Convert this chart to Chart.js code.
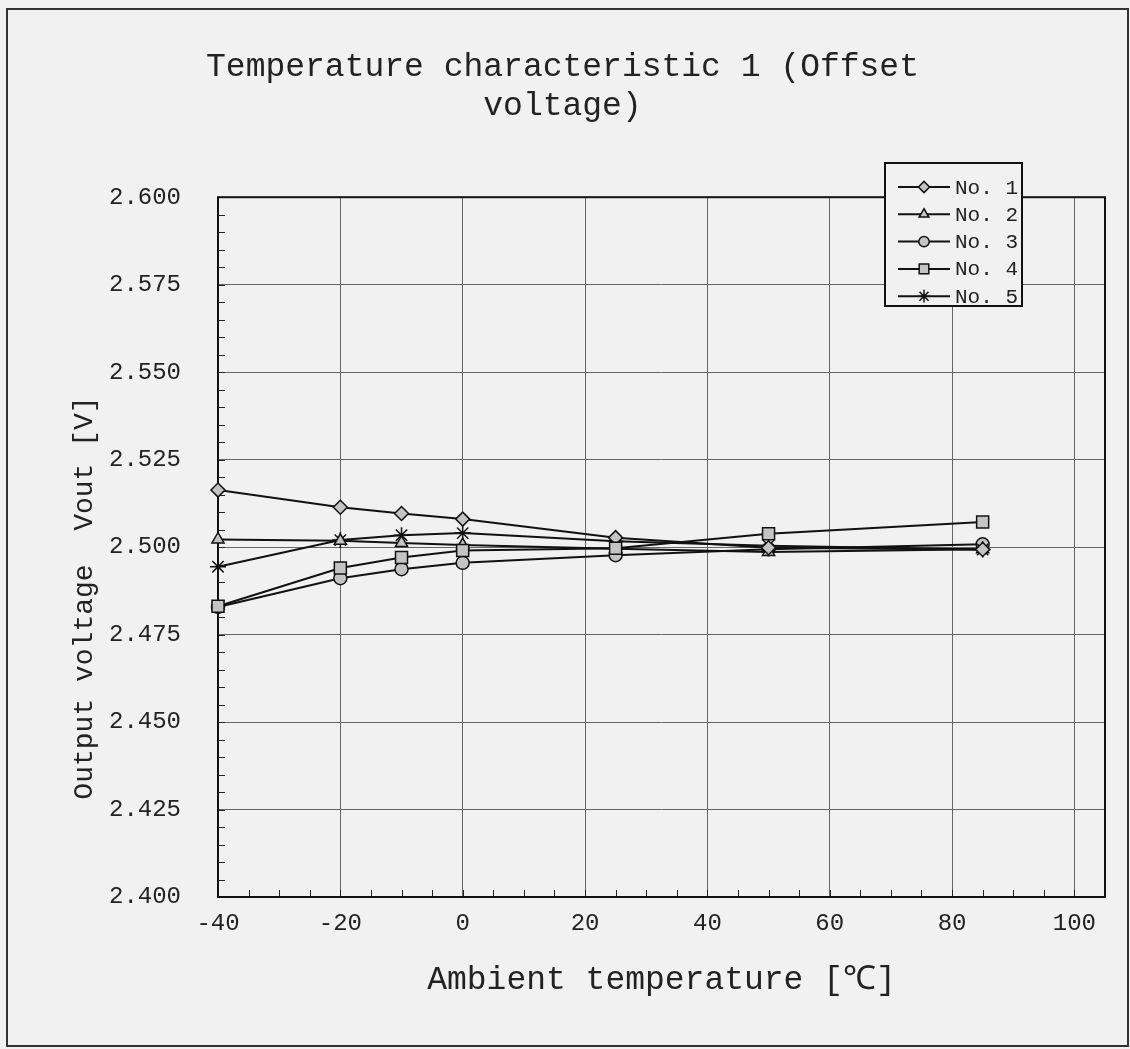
<!DOCTYPE html>
<html>
<head>
<meta charset="utf-8">
<title>Temperature characteristic 1</title>
<script src="https://cdn.jsdelivr.net/npm/chart.js@4.4.0/dist/chart.umd.min.js"></script>
<style>
  body { margin: 0; background: #f1f1f1; }
  .frame { position: absolute; left: 6px; top: 8px; width: 1119px; height: 1035px; border: 2px solid #333; }
  .wrap { position: absolute; left: 0; top: 0; width: 1130px; height: 1049px; }
</style>
</head>
<body>
<div class="frame"></div>
<div class="wrap"><canvas id="chart" width="1130" height="1049"></canvas></div>
<script>
// data
const temps = [-40, -20, -10, 0, 25, 50, 85];
const seriesNames = ['No. 1', 'No. 2', 'No. 3', 'No. 4', 'No. 5'];
const no1 = [2.5163, 2.5114, 2.5096, 2.5080, 2.5027, 2.4998, 2.4993];
const no2 = [2.5022, 2.5018, 2.5012, 2.5006, 2.4995, 2.4986, 2.4994];
const no3 = [2.4829, 2.4911, 2.4937, 2.4955, 2.4977, 2.4994, 2.5008];
const no4 = [2.4831, 2.4940, 2.4970, 2.4990, 2.4997, 2.5038, 2.5072];
const no5 = [2.4944, 2.5020, 2.5034, 2.5040, 2.5017, 2.5004, 2.4993];

const xTicks = [-40, -20, 0, 20, 40, 60, 80, 100];
const yTicks = [2.400, 2.425, 2.450, 2.475, 2.500, 2.525, 2.550, 2.575, 2.600];
const titleLines = ['Temperature characteristic 1 (Offset', 'voltage)'];
const xTitle = 'Ambient temperature [℃]';
const yTitle = 'Output voltage  Vout [V]';

const FONT = '"Liberation Mono", "DejaVu Sans Mono", monospace';
const markers = ['rectRot', 'triangle', 'circle', 'rect', 'star'];
const markerSize = [7, 7, 6.5, 8.5, 8];
const drawOrder = [1, 1, 2, 0, 1];
const allSeries = [no1, no2, no3, no4, no5];

const datasets = allSeries.map(function (s, k) {
    return {
        label: seriesNames[k],
        data: temps.map((t, i) => ({ x: t, y: s[i] })),
        order: drawOrder[k],
        borderColor: '#111',
        borderWidth: 2,
        pointStyle: markers[k],
        pointRadius: markerSize[k],
        pointBackgroundColor: '#c4c4c4',
        pointBorderColor: '#111',
        pointBorderWidth: 1.5,
        tension: 0,
        clip: false
    };
});

// minor ticks, plot frame, y title
const extras = {
    id: 'extras',
    beforeDatasetsDraw(chart) {
        const ctx = chart.ctx;
        const a = chart.chartArea;
        const xs = chart.scales.x, ys = chart.scales.y;
        ctx.save();
        ctx.strokeStyle = '#222';
        ctx.lineWidth = 1;
        ctx.beginPath();
        for (let v = -40; v <= 105; v += 5) {
            const px = Math.round(xs.getPixelForValue(v)) + 0.5;
            ctx.moveTo(px, a.bottom);
            ctx.lineTo(px, a.bottom - 7);
        }
        for (let v = 2.4; v <= 2.6001; v += 0.005) {
            const py = Math.round(ys.getPixelForValue(v)) + 0.5;
            ctx.moveTo(a.left, py);
            ctx.lineTo(a.left + 7, py);
        }
        ctx.stroke();
        ctx.lineWidth = 2;
        ctx.strokeStyle = '#111';
        ctx.strokeRect(a.left, a.top, a.right - a.left, a.bottom - a.top);

        // y axis title
        ctx.translate(85, 598);
        ctx.rotate(-Math.PI / 2);
        ctx.fillStyle = '#222';
        ctx.font = '28px ' + FONT;
        ctx.textAlign = 'center';
        ctx.textBaseline = 'middle';
        ctx.fillText(yTitle, 0, 0);
        ctx.restore();
    }
};

// legend box inside the top right corner
const boxLegend = {
    id: 'boxLegend',
    afterDraw(chart) {
        const ctx = chart.ctx;
        ctx.save();
        ctx.fillStyle = '#f1f1f1';
        ctx.fillRect(885, 163, 137, 143);
        ctx.strokeStyle = '#111';
        ctx.lineWidth = 2;
        ctx.strokeRect(885, 163, 137, 143);
        chart.data.datasets.forEach(function (ds, i) {
            const y = 187 + i * 27.3;
            ctx.strokeStyle = '#111';
            ctx.lineWidth = 2;
            ctx.beginPath();
            ctx.moveTo(898, y);
            ctx.lineTo(950, y);
            ctx.stroke();
            ctx.fillStyle = '#c4c4c4';
            ctx.lineWidth = 1.5;
            if (Chart.helpers && Chart.helpers.drawPoint) {
                Chart.helpers.drawPoint(ctx, { pointStyle: ds.pointStyle, radius: ds.pointRadius * 0.8, rotation: 0, borderWidth: 1.5 }, 924, y);
            }
            ctx.fillStyle = '#222';
            ctx.font = '21px ' + FONT;
            ctx.textBaseline = 'middle';
            ctx.fillText(ds.label, 955, y + 1);
        });
        ctx.restore();
    }
};

const chart = new Chart(document.getElementById('chart'), {
    type: 'line',
    data: { datasets: datasets },
    plugins: [extras, boxLegend],
    options: {
        responsive: false,
        animation: false,
        layout: { padding: { left: 20, right: 25, top: 0, bottom: 40 } },
        plugins: {
            legend: { display: false },
            tooltip: { enabled: false },
            title: {
                display: true,
                text: titleLines,
                color: '#222',
                font: { family: FONT, size: 33, weight: 'normal' },
                padding: { top: 47, bottom: 71 }
            }
        },
        scales: {
            x: {
                type: 'linear',
                min: -40,
                max: 105,
                afterBuildTicks: s => { s.ticks = xTicks.map(v => ({ value: v })); },
                afterFit: s => { s.height = 112; },
                grid: { color: '#666', lineWidth: 1, drawTicks: false },
                border: { display: false },
                ticks: { color: '#222', padding: 12, font: { family: FONT, size: 24 }, maxRotation: 0 },
                title: { display: true, text: xTitle, color: '#222', font: { family: FONT, size: 33 }, padding: { top: 0, bottom: 9 } }
            },
            y: {
                type: 'linear',
                min: 2.4,
                max: 2.6,
                afterBuildTicks: s => { s.ticks = yTicks.map(v => ({ value: v })); },
                afterFit: s => { s.width = 198; },
                grid: { color: '#666', lineWidth: 1, drawTicks: false },
                border: { display: false },
                ticks: {
                    color: '#222',
                    padding: 37,
                    font: { family: FONT, size: 24 },
                    callback: v => v.toFixed(3)
                }
            }
        }
    }
});
</script>
</body>
</html>
